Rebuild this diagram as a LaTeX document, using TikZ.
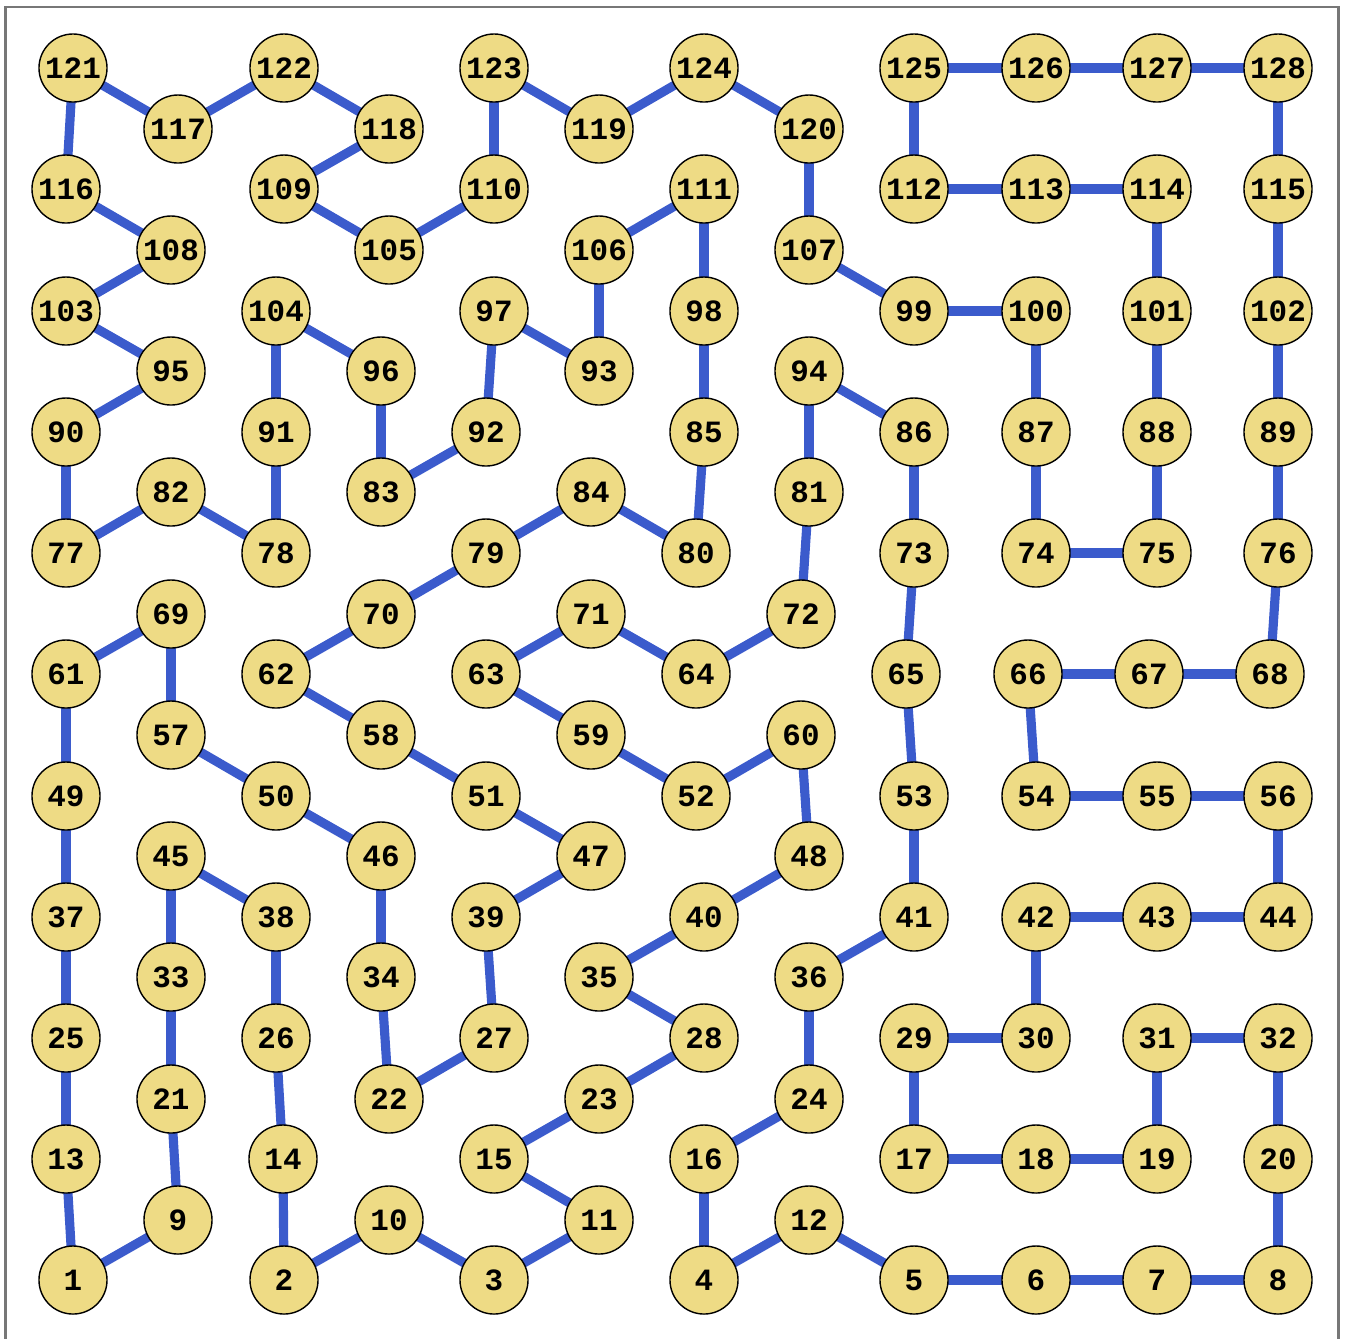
\documentclass[tikz,border=0pt]{standalone}
\usepackage{fontspec}
\setmonofont{Liberation Mono}
\usetikzlibrary{backgrounds}
\definecolor{vertexFill}{HTML}{EEDB85}
\definecolor{pathBlue}{HTML}{3B5BCC}
\definecolor{frameGray}{HTML}{777777}

\begin{document}
\begin{tikzpicture}[x=0.01cm, y=-0.01cm,
    vtx/.style={circle, draw=black, line width=0.4pt, fill=vertexFill,
        minimum size=0.68cm, inner sep=0pt,
        font=\ttfamily\bfseries\fontsize{8.8}{10}\selectfont},
    tour/.style={pathBlue, line width=2.6pt}]
    \useasboundingbox (0,0) rectangle (1345,1338);
    \draw[frameGray, line width=0.6pt] (5.5,1345) -- (5.5,7) -- (1338.5,7) -- (1338.5,1345);
    % vertices
    \foreach \i/\px/\py in {
        1/73/1280, 2/284/1280, 3/494/1280, 4/704/1280, 5/914/1280, 6/1036/1280, 7/1157/1280, 8/1278/1280,
        9/178/1220, 10/389/1220, 11/599/1220, 12/809/1220,
        13/66/1159, 14/283/1159, 15/494/1159, 16/704/1159, 17/914/1159, 18/1036/1159, 19/1157/1159, 20/1278/1159,
        21/171/1099, 22/389/1099, 23/599/1099, 24/809/1099,
        25/66/1038, 26/276/1038, 27/494/1038, 28/704/1038, 29/914/1038, 30/1036/1038, 31/1157/1038, 32/1278/1038,
        33/171/977, 34/381/977, 35/599/977, 36/809/977,
        37/66/917, 38/276/917, 39/486/917, 40/704/917, 41/914/917, 42/1036/917, 43/1157/917, 44/1278/917,
        45/171/856, 46/381/856, 47/591/856, 48/809/856,
        49/66/796, 50/276/796, 51/486/796, 52/696/796, 53/914/796, 54/1036/796, 55/1157/796, 56/1278/796,
        57/171/735, 58/381/735, 59/591/735, 60/801/735,
        61/66/674, 62/276/674, 63/486/674, 64/696/674, 65/906/674, 66/1028/674, 67/1149/674, 68/1270/674,
        69/171/614, 70/381/614, 71/591/614, 72/801/614,
        73/914/553, 74/1036/553, 75/1157/553, 76/1278/553, 77/66/553, 78/276/553, 79/486/553, 80/696/553,
        81/809/492, 82/171/492, 83/381/492, 84/591/492,
        85/704/432, 86/914/432, 87/1036/432, 88/1157/432, 89/1278/432, 90/66/432, 91/276/432, 92/486/432,
        93/599/371, 94/809/371, 95/171/371, 96/381/371,
        97/494/311, 98/704/311, 99/914/311, 100/1036/311, 101/1157/311, 102/1278/311, 103/66/311, 104/276/311,
        105/389/250, 106/599/250, 107/809/250, 108/171/250,
        109/284/189, 110/494/189, 111/704/189, 112/914/189, 113/1036/189, 114/1157/189, 115/1278/189, 116/66/189,
        117/178/129, 118/389/129, 119/599/129, 120/809/129,
        121/73/68, 122/284/68, 123/494/68, 124/704/68, 125/914/68, 126/1036/68, 127/1157/68, 128/1278/68}
        \node[vtx] (n\i) at (\px,\py) {\i};
    % the tour, behind the vertices
    \begin{pgfonlayer}{background}
        \foreach \a/\b in {
            1/9, 9/21, 21/33, 33/45, 45/38, 38/26, 26/14, 14/2, 2/10, 10/3, 3/11, 11/15, 15/23, 23/28,
            28/35, 35/40, 40/48, 48/60, 60/52, 52/59, 59/63, 63/71, 71/64, 64/72, 72/81, 81/94, 94/86,
            86/73, 73/65, 65/53, 53/41, 41/36, 36/24, 24/16, 16/4, 4/12, 12/5, 5/6, 6/7, 7/8, 8/20,
            20/32, 32/31, 31/19, 19/18, 18/17, 17/29, 29/30, 30/42, 42/43, 43/44, 44/56, 56/55, 55/54,
            54/66, 66/67, 67/68, 68/76, 76/89, 89/102, 102/115, 115/128, 128/127, 127/126, 126/125,
            125/112, 112/113, 113/114, 114/101, 101/88, 88/75, 75/74, 74/87, 87/100, 100/99, 99/107,
            107/120, 120/124, 124/119, 119/123, 123/110, 110/105, 105/109, 109/118, 118/122, 122/117,
            117/121, 121/116, 116/108, 108/103, 103/95, 95/90, 90/77, 77/82, 82/78, 78/91, 91/104,
            104/96, 96/83, 83/92, 92/97, 97/93, 93/106, 106/111, 111/98, 98/85, 85/80, 80/84, 84/79,
            79/70, 70/62, 62/58, 58/51, 51/47, 47/39, 39/27, 27/22, 22/34, 34/46, 46/50, 50/57, 57/69,
            69/61, 61/49, 49/37, 37/25, 25/13, 13/1}
            \draw[tour] (n\a.center) -- (n\b.center);
    \end{pgfonlayer}
\end{tikzpicture}
\end{document}
